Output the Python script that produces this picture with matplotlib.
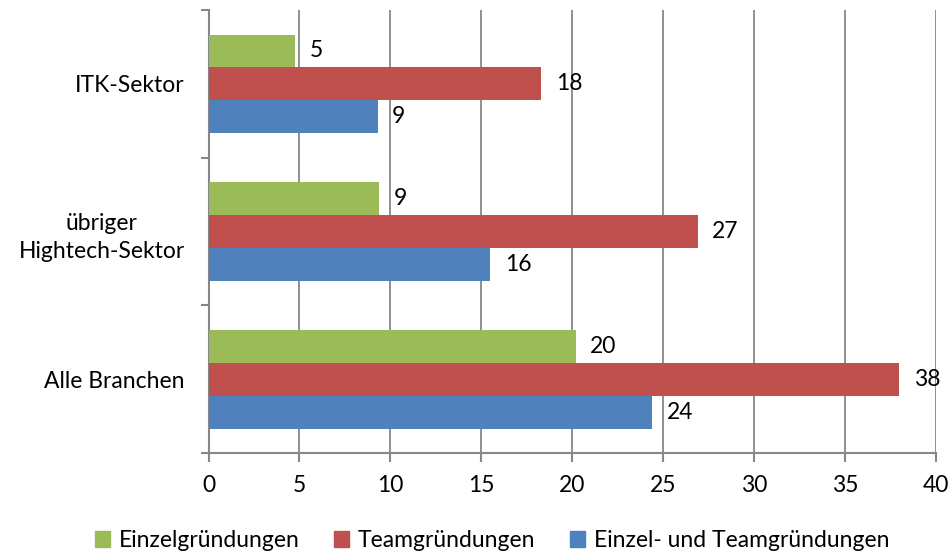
import matplotlib.pyplot as plt
from matplotlib.patches import Patch

plt.rcParams['font.family'] = ['Lato', 'DejaVu Sans']

categories = ['Alle Branchen', 'übriger\nHightech-Sektor', 'ITK-Sektor']
einzel = [20.2, 9.4, 4.75]
team = [38.0, 26.9, 18.3]
beide = [24.4, 15.5, 9.3]
series_names = ['Einzelgründungen', 'Teamgründungen', 'Einzel- und Teamgründungen']
colors = ['#9BBB59', '#C0504D', '#4F81BD']

fig = plt.figure(figsize=(9.5, 5.55), dpi=100)
ax = fig.add_axes([0.2195, 0.1838, 0.7655, 0.798])

fs = 16.5
h = 0.223
y = list(range(len(categories)))
grey = '#878787'

for vals, off, col in [(einzel, h, colors[0]), (team, 0, colors[1]), (beide, -h, colors[2])]:
    pos = [p + off for p in y]
    ax.barh(pos, vals, height=h, color=col, zorder=3)
    for p, v in zip(pos, vals):
        ax.text(v + 0.8, p, str(round(v)), va='center', ha='left', fontsize=fs, zorder=4)

ax.set_xlim(0, 40)
ax.set_ylim(-0.5, 2.5)
ax.set_xticks(range(0, 41, 5))
ax.set_yticks(y)
ax.set_yticklabels(categories, ha='right', multialignment='center', linespacing=1.45)
ax.set_yticks([-0.5, 0.5, 1.5, 2.5], minor=True)
ax.tick_params(axis='y', which='major', length=0, pad=17, labelsize=fs)
ax.tick_params(axis='y', which='minor', length=6, width=1.5, color=grey, direction='out')
ax.tick_params(axis='x', length=6.5, width=1.5, color=grey, labelsize=fs, pad=9)

ax.grid(axis='x', color=grey, linewidth=1.3, zorder=0)
for s in ['top', 'right']:
    ax.spines[s].set_visible(False)
for s in ['left', 'bottom']:
    ax.spines[s].set_color(grey)
    ax.spines[s].set_linewidth(1.5)

handles = [Patch(color=c) for c in colors]
fig.legend(handles, series_names, loc='lower center', ncol=3, frameon=False,
           fontsize=fs, handlelength=0.65, handleheight=0.65, columnspacing=1.5,
           handletextpad=0.4, bbox_to_anchor=(0.518, -0.03))

fig.savefig('out.png', dpi=100)
